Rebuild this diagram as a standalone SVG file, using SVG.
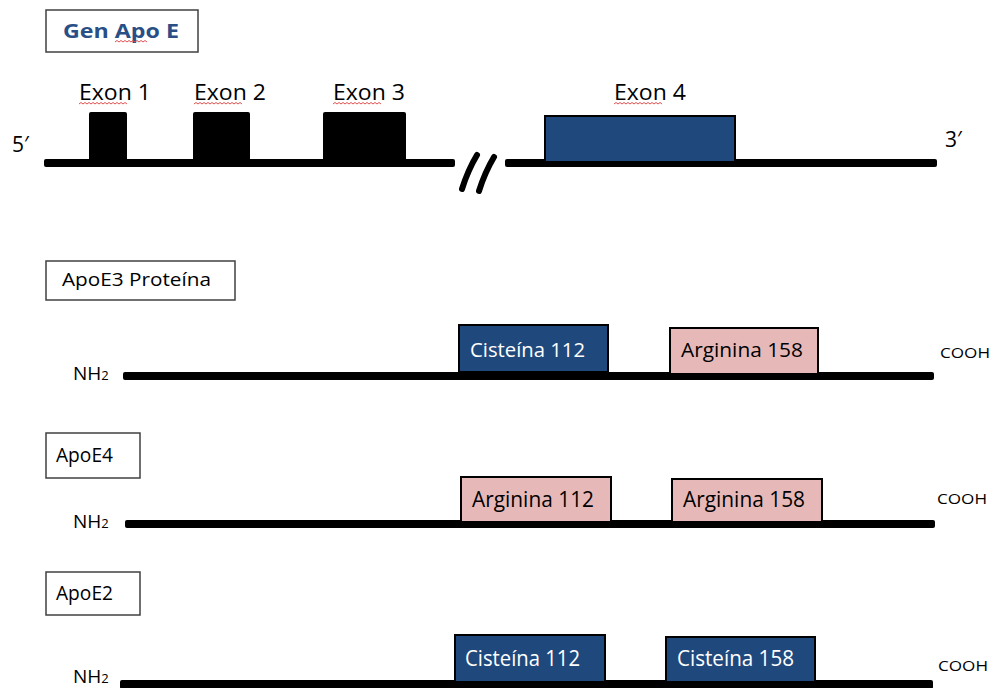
<svg xmlns="http://www.w3.org/2000/svg" width="995" height="688" viewBox="0 0 995 688">
<style>
.lbl{fill:#fff;stroke:#404040;stroke-width:1.5}
.t{font-family:"Open Sans","Liberation Sans",sans-serif;fill:#000}
.w{fill:#fff}
.bar{fill:#000}
.blue{fill:#1f497d;stroke:#000;stroke-width:2}
.pink{fill:#e6b9b8;stroke:#000;stroke-width:2}
.sq{fill:none;stroke:#e05050;stroke-width:1}
</style>
<rect width="995" height="688" fill="#fff"/>
<g id="gen-title">
<rect class="lbl" x="46" y="10" width="152" height="42"/>
<text x="63" y="38" font-family="'Open Sans','Liberation Sans',sans-serif" font-weight="bold" font-size="20" fill="#2a4f86" textLength="116" lengthAdjust="spacingAndGlyphs">Gen Apo E</text>
<path class="sq" d="M115 42 l2 -1.5 l2 1.5 l2 -1.5 l2 1.5 l2 -1.5 l2 1.5 l2 -1.5 l2 1.5 l2 -1.5 l2 1.5 l2 -1.5 l2 1.5 l2 -1.5 l2 1.5 l2 -1.5 l2 1.5"/>
</g>
<g id="gene">
<text class="t" x="12" y="152" font-size="21">5′</text>
<text class="t" x="945" y="147" font-size="21">3′</text>
<rect class="bar" x="44" y="159" width="411" height="8" rx="2"/>
<rect class="bar" x="505" y="159" width="432" height="8" rx="2"/>
<path d="M462 189 Q468 170 477 155 M479 191 Q485 172 494 157" stroke="#000" stroke-width="6" stroke-linecap="round" fill="none"/>
</g>
<g id="exon1">
<rect class="bar" x="89" y="112" width="38" height="50" rx="2"/>
<text class="t" x="79" y="100" font-size="21" textLength="72" lengthAdjust="spacingAndGlyphs">Exon 1</text>
<path class="sq" d="M79 104 l2 -1.5 l2 1.5 l2 -1.5 l2 1.5 l2 -1.5 l2 1.5 l2 -1.5 l2 1.5 l2 -1.5 l2 1.5 l2 -1.5 l2 1.5 l2 -1.5 l2 1.5 l2 -1.5 l2 1.5 l2 -1.5 l2 1.5 l2 -1.5 l2 1.5 l2 -1.5 l2 1.5 l2 -1.5 l2 1.5"/>
</g>
<g id="exon2">
<rect class="bar" x="193" y="112" width="57" height="50" rx="2"/>
<text class="t" x="194" y="100" font-size="21" textLength="72" lengthAdjust="spacingAndGlyphs">Exon 2</text>
<path class="sq" d="M194 104 l2 -1.5 l2 1.5 l2 -1.5 l2 1.5 l2 -1.5 l2 1.5 l2 -1.5 l2 1.5 l2 -1.5 l2 1.5 l2 -1.5 l2 1.5 l2 -1.5 l2 1.5 l2 -1.5 l2 1.5 l2 -1.5 l2 1.5 l2 -1.5 l2 1.5 l2 -1.5 l2 1.5 l2 -1.5 l2 1.5"/>
</g>
<g id="exon3">
<rect class="bar" x="323" y="112" width="83" height="50" rx="2"/>
<text class="t" x="333" y="100" font-size="21" textLength="72" lengthAdjust="spacingAndGlyphs">Exon 3</text>
<path class="sq" d="M333 104 l2 -1.5 l2 1.5 l2 -1.5 l2 1.5 l2 -1.5 l2 1.5 l2 -1.5 l2 1.5 l2 -1.5 l2 1.5 l2 -1.5 l2 1.5 l2 -1.5 l2 1.5 l2 -1.5 l2 1.5 l2 -1.5 l2 1.5 l2 -1.5 l2 1.5 l2 -1.5 l2 1.5 l2 -1.5 l2 1.5"/>
</g>
<g id="exon4">
<rect class="blue" x="545" y="116" width="190" height="46"/>
<text class="t" x="614" y="100" font-size="21" textLength="72" lengthAdjust="spacingAndGlyphs">Exon 4</text>
<path class="sq" d="M614 104 l2 -1.5 l2 1.5 l2 -1.5 l2 1.5 l2 -1.5 l2 1.5 l2 -1.5 l2 1.5 l2 -1.5 l2 1.5 l2 -1.5 l2 1.5 l2 -1.5 l2 1.5 l2 -1.5 l2 1.5 l2 -1.5 l2 1.5 l2 -1.5 l2 1.5 l2 -1.5 l2 1.5 l2 -1.5 l2 1.5"/>
</g>

<g id="apoe3">
<rect class="lbl" x="46" y="261" width="189" height="39"/>
<text class="t" x="62" y="286" font-size="19" textLength="149" lengthAdjust="spacingAndGlyphs">ApoE3 Proteína</text>
<text class="t" x="73" y="380" font-size="19">NH<tspan font-size="13">2</tspan></text>
<rect class="bar" x="123" y="372" width="811" height="8" rx="2"/>
<text class="t" x="940" y="358" font-size="15" textLength="50" lengthAdjust="spacingAndGlyphs">COOH</text>
</g>
<g id="apoe3-cys112">
<rect class="blue" x="459" y="325" width="149" height="47"/>
<text class="t w" x="470" y="357" font-size="20" textLength="115" lengthAdjust="spacingAndGlyphs">Cisteína 112</text>
</g>
<g id="apoe3-arg158">
<rect class="pink" x="670" y="328" width="148" height="46"/>
<text class="t" x="681" y="357" font-size="20" textLength="122" lengthAdjust="spacingAndGlyphs">Arginina 158</text>
</g>

<g id="apoe4">
<rect class="lbl" x="46" y="433" width="94" height="45"/>
<text class="t" x="56" y="462" font-size="20" textLength="57" lengthAdjust="spacingAndGlyphs">ApoE4</text>
<text class="t" x="73" y="528" font-size="19">NH<tspan font-size="13">2</tspan></text>
<rect class="bar" x="125" y="520" width="810" height="8" rx="2"/>
<text class="t" x="937" y="504" font-size="15" textLength="50" lengthAdjust="spacingAndGlyphs">COOH</text>
</g>
<g id="apoe4-arg112">
<rect class="pink" x="461" y="477" width="150" height="45"/>
<text class="t" x="472" y="507" font-size="21" textLength="122" lengthAdjust="spacingAndGlyphs">Arginina 112</text>
</g>
<g id="apoe4-arg158">
<rect class="pink" x="672" y="479" width="150" height="43"/>
<text class="t" x="683" y="507" font-size="21" textLength="122" lengthAdjust="spacingAndGlyphs">Arginina 158</text>
</g>

<g id="apoe2">
<rect class="lbl" x="46" y="572" width="94" height="43"/>
<text class="t" x="56" y="600" font-size="20" textLength="57" lengthAdjust="spacingAndGlyphs">ApoE2</text>
<text class="t" x="73" y="683" font-size="19">NH<tspan font-size="13">2</tspan></text>
<rect class="bar" x="120" y="680" width="813" height="9" rx="2"/>
<text class="t" x="938" y="671" font-size="15" textLength="50" lengthAdjust="spacingAndGlyphs">COOH</text>
</g>
<g id="apoe2-cys112">
<rect class="blue" x="455" y="635" width="150" height="47"/>
<text class="t w" x="465" y="666" font-size="21" textLength="115" lengthAdjust="spacingAndGlyphs">Cisteína 112</text>
</g>
<g id="apoe2-cys158">
<rect class="blue" x="666" y="637" width="149" height="45"/>
<text class="t w" x="677" y="666" font-size="21" textLength="117" lengthAdjust="spacingAndGlyphs">Cisteína 158</text>
</g>
</svg>
